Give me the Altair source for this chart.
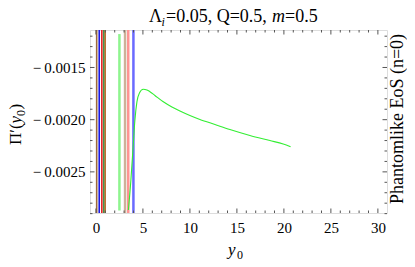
import altair as alt
import pandas as pd

# ---- data ----
curve_x = [3.457, 3.723, 3.936, 4.149, 4.362, 4.628, 5.032, 5.426, 5.745, 6.277,
           7.128, 8.085, 8.936, 10.0, 11.064, 12.66, 14.255, 16.383, 18.511, 19.926, 20.713]
curve_y = [-0.002865, -0.002577, -0.00229, -0.002003, -0.00183, -0.001744, -0.001709,
           -0.001716, -0.001732, -0.001768, -0.001826, -0.001878, -0.001917, -0.00196,
           -0.001998, -0.002046, -0.002094, -0.002151, -0.0022, -0.002233, -0.002259]

dark_names = ["brown", "blue", "red", "green", "orange"]
dark_x = [0.08, 0.35, 0.63, 0.85, 0.99]
dark_colors = ["#9c6a3c", "#1a1ae6", "#e32020", "#2a8a3a", "#c07030"]

light_names = ["lightgreen", "tan", "pink", "lightblue"]
light_x = [2.5, 3.1, 3.44, 3.99]
light_y1 = [-0.00287, -0.002894, -0.002894, -0.002894]
light_y2 = [-0.00118, -0.001141, -0.001141, -0.001141]
light_colors = ["#8ef58e", "#cdb29a", "#ff9494", "#6a6aff"]

x_major = [0, 5, 10, 15, 20, 25, 30]
x_minor = [1, 2, 3, 4, 6, 7, 8, 9, 11, 12, 13, 14, 16, 17, 18, 19, 21, 22, 23, 24,
           26, 27, 28, 29]
y_major = [-0.0025, -0.0020, -0.0015]
y_minor = [-0.0029, -0.0028, -0.0027, -0.0026, -0.0024, -0.0023, -0.0022, -0.0021,
           -0.0019, -0.0018, -0.0017, -0.0016, -0.0014, -0.0013, -0.0012]

x_domain = [-0.63, 30.97]
y_domain = [-0.002894, -0.001141]

W, H = 297, 183
FONT = "Liberation Serif"
FRAME = "#555555"

xs = alt.Scale(domain=x_domain, nice=False, zero=False)
ys = alt.Scale(domain=y_domain, nice=False, zero=False)

curve_df = pd.DataFrame({"x": curve_x, "y": curve_y})
dark_df = pd.DataFrame({"x": dark_x, "name": dark_names})
light_df = pd.DataFrame({"x": light_x, "y": light_y1, "y2": light_y2, "name": light_names})

curve = alt.Chart(curve_df).mark_line(color="#33ee33", strokeWidth=1.1, clip=True,
                                      interpolate="monotone").encode(
    x=alt.X("x:Q", scale=xs, axis=alt.Axis(
        values=x_major, title=None, grid=False, ticks=False, domain=False,
        labelFont=FONT, labelFontSize=15, labelColor="black", labelPadding=7,
        labelFlush=False)),
    y=alt.Y("y:Q", scale=ys, axis=alt.Axis(
        values=y_major, title=None, grid=False, ticks=False, domain=False,
        labelFont=FONT, labelFontSize=15, labelColor="black", labelPadding=5,
        labelExpr="'\u2212\u2009' + format(abs(datum.value), '.4f')")),
)

dark_rules = alt.Chart(dark_df).mark_rule(strokeWidth=1.6, clip=True).encode(
    x=alt.X("x:Q", scale=xs),
    y=alt.value(0), y2=alt.value(H),
    color=alt.Color("name:N", scale=alt.Scale(domain=dark_names, range=dark_colors), legend=None),
)

light_rules = alt.Chart(light_df).mark_rule(strokeWidth=2.5, clip=True).encode(
    x=alt.X("x:Q", scale=xs),
    y=alt.Y("y:Q", scale=ys), y2="y2:Q",
    stroke=alt.Stroke("name:N", scale=alt.Scale(domain=light_names, range=light_colors), legend=None),
)

def xticks(vals, L):
    df = pd.DataFrame({"x": vals})
    b = alt.Chart(df).mark_rule(color=FRAME, strokeWidth=1).encode(
        x=alt.X("x:Q", scale=xs), y=alt.value(H), y2=alt.value(H - L))
    t = alt.Chart(df).mark_rule(color=FRAME, strokeWidth=1).encode(
        x=alt.X("x:Q", scale=xs), y=alt.value(0), y2=alt.value(L))
    return [b, t]

def yticks(vals, L):
    df = pd.DataFrame({"y": vals})
    l = alt.Chart(df).mark_rule(color=FRAME, strokeWidth=1).encode(
        y=alt.Y("y:Q", scale=ys), x=alt.value(0), x2=alt.value(L))
    r = alt.Chart(df).mark_rule(color=FRAME, strokeWidth=1).encode(
        y=alt.Y("y:Q", scale=ys), x=alt.value(W - L), x2=alt.value(W))
    return [l, r]

tick_layers = xticks(x_major, 4.5) + xticks(x_minor, 2.5) + yticks(y_major, 4.5) + yticks(y_minor, 2.5)

def txt(s, x, y, size, dx=0, dy=0, italic=False, angle=0, align="left"):
    return alt.Chart(pd.DataFrame({"t": [s]})).mark_text(
        font=FONT, fontSize=size, fontStyle="italic" if italic else "normal",
        align=align, baseline="alphabetic", dx=dx, dy=dy, angle=angle, color="black"
    ).encode(text="t:N", x=alt.value(x), y=alt.value(y))

# title: Λ_i=0.05, Q=0.5, m=0.5
tx, ty = 59, -8
title = [
    txt("\u039b", tx, ty, 18),
    txt("i", tx, ty, 12, dx=12.5, dy=4, italic=True),
    txt("=0.05, Q=0.5,", tx, ty, 18, dx=17),
    txt("m", tx, ty, 18, dx=123, italic=True),
    txt("=0.5", tx, ty, 18, dx=136),
]

# y-axis title Π'(y0), rotated
ax_, ay_ = -69, 115
ytitle = [
    txt("\u03a0\u2032(", ax_, ay_, 17, angle=270),
    txt("y", ax_, ay_, 17, dx=21.5, italic=True, angle=270),
    txt("0", ax_, ay_, 12, dx=29, dy=4, angle=270),
    txt(")", ax_, ay_, 17, dx=35.5, angle=270),
]

# x-axis title y0
xtitle = [
    txt("y", 138, 225, 17, italic=True),
    txt("0", 138, 225, 12, dx=9, dy=4),
]

right = txt("Phantomlike  EoS  (n=0)", 313, 89, 18, angle=270, align="center")

chart = alt.layer(
    light_rules, dark_rules, curve, *tick_layers, *title, *ytitle, *xtitle, right
).properties(
    width=W, height=H,
    autosize=alt.AutoSizeParams(type="none"),
    padding={"left": 82, "top": 22, "right": 20, "bottom": 46},
).configure_view(stroke=FRAME, strokeWidth=1).configure(background="white")

chart.save("out.html", embed_options={"renderer": "svg", "actions": False})
